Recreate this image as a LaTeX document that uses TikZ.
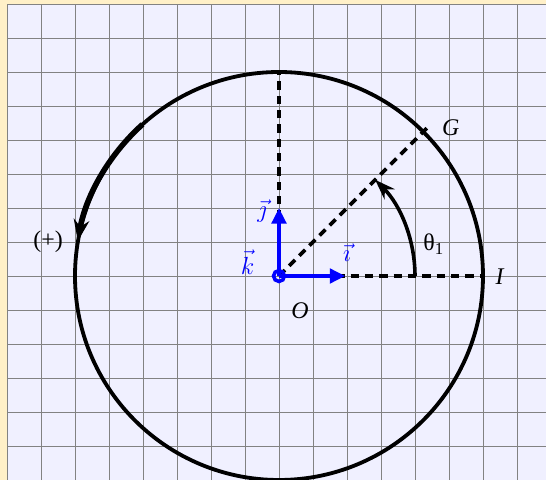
\documentclass[tikz,border=0pt]{standalone}
\usepackage{fontspec}
\setmainfont{Liberation Serif}
\usetikzlibrary{arrows.meta}
\definecolor{beige}{RGB}{255,240,200}
\definecolor{lav}{RGB}{240,240,255}
\definecolor{gridc}{RGB}{130,130,130}
\tikzset{
  gridline/.style={draw=gridc, line width=0.6pt},
  dashline/.style={line width=3pt, dash pattern=on 7pt off 5pt},
  vecarrow/.style={blue, line width=3.4pt, -{Triangle[length=13pt,width=12pt]}},
  lab/.style={font=\fontsize{20}{22}\selectfont, inner sep=1pt},
  blab/.style={lab, text=blue},
}
\begin{document}
\begin{tikzpicture}
\useasboundingbox (-8.206,-6) rectangle (7.853,8.118);
\clip (-8.206,-6) rectangle (7.853,8.118);
\fill[beige] (-8.206,-6) rectangle (7.853,8.118);
\fill[lav] (-8,-6.5) rectangle (8.5,8);
\foreach \x in {-8,...,7} \draw[gridline] (\x,-6.5) -- (\x,8);
\foreach \y in {-6,...,8} \draw[gridline] (-8,\y) -- (8.5,\y);
\coordinate (O) at (0,0);
\coordinate (T) at (0,6);
\coordinate (R) at (6,0);
\coordinate (Gp) at (45:6.2);
\coordinate (Ex) at (1.95,0);
\coordinate (Ey) at (0,2);
\coordinate (A0) at (4,0);
\coordinate (C0) at (132:6);
% dashed lines
\draw[dashline] (O) -- (T);
\draw[dashline] (O) -- (R);
\draw[dashline] (O) -- (Gp);
% circle
\draw[line width=3.2pt] (O) circle (6);
% orientation arrow
\draw[line width=4.6pt, -{Stealth[length=18pt,width=13pt]}] (C0) arc (132:170:6.03);
% theta arc
\draw[line width=3pt, -{Stealth[length=17pt,width=12pt]}] (A0) arc (0:45:4);
% vectors
\draw[vecarrow] (O) -- (Ex);
\draw[vecarrow] (O) -- (Ey);
\draw[blue, line width=3pt] (O) circle (0.16);
% labels
\node[blab] (lj) at (-0.5,1.9) {$\vec{\jmath}$};
\node[blab] (lk) at (-0.92,0.4) {$\vec{k}$};
\node[blab] (li) at (2.0,0.68) {$\vec{\imath}$};
\node[lab] (lO) at (0.62,-1.03) {\textit{O}};
\node[lab] (lG) at (5.05,4.35) {\textit{G}};
\node[lab] (lI) at (6.5,-0.03) {\textit{I}};
\node[lab] (lt) at (4.55,0.94) {θ\textsubscript{1}};
\node[lab] (lp) at (-6.79,1.0) {(+)};
\end{tikzpicture}
\end{document}
